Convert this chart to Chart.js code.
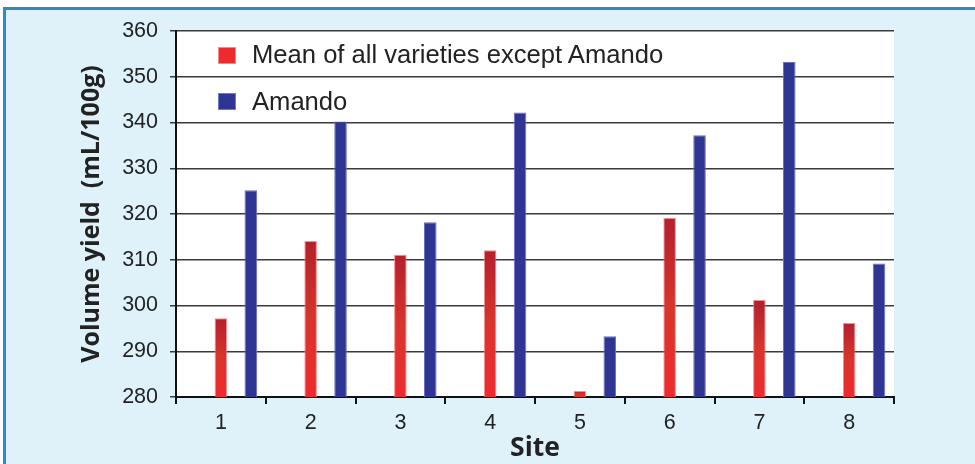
<!DOCTYPE html>
<html>
<head>
<meta charset="utf-8">
<script src="https://cdn.jsdelivr.net/npm/chart.js@4.4.1/dist/chart.umd.min.js"></script>
<style>
  html, body { margin: 0; padding: 0; background: #ffffff; }
  #wrap { position: relative; width: 975px; height: 464px; overflow: hidden; }
  #frame {
    position: absolute; left: 3px; top: 7px; right: 0; bottom: 0;
    background: #dff2fa;
    border-left: 3px solid #2f8bbf;
    border-top: 3px solid #2f8bbf;
  }
  #chart { position: absolute; left: 0; top: 0; }
  .leg { position: absolute; font-family: "Liberation Sans", Arial, sans-serif; font-size: 25.6px; line-height: 25px; color: #222; white-space: nowrap; }
  .sw { position: absolute; width: 18px; height: 17px; box-sizing: border-box; }
</style>
</head>
<body>
<div id="wrap">
  <div id="frame"></div>
  <canvas id="chart" width="975" height="464"></canvas>
  <div class="sw" style="left:218px; top:47px; background:#ee2a2e; border:1px solid #f68a8a;"></div>
  <div class="leg" style="left:252px; top:42px;">Mean of all varieties except Amando</div>
  <div class="sw" style="left:218px; top:93px; background:#2e3592; border:1px solid #7077c4;"></div>
  <div class="leg" style="left:252px; top:89px;">Amando</div>
</div>
<script>
document.addEventListener("DOMContentLoaded", function() {

    // Dati
    const sites = ['1', '2', '3', '4', '5', '6', '7', '8'];
    const meanOthers = [297.2, 314.1, 311.1, 312.1, 281.3, 319.1, 301.2, 296.2];
    const amando = [325.2, 340.2, 318.2, 342.2, 293.3, 337.2, 353.2, 309.2];
    const yTicks = [280, 290, 300, 310, 320, 330, 340, 350, 360];

    // Gradiente rosso per ogni barra (scuro in alto, chiaro in basso)
    function redGradient(context) {
        const chart = context.chart;
        const area = chart.chartArea;
        const v = context.raw;
        if (!area || v == null) return '#e02a2e';
        const yTop = chart.scales.y.getPixelForValue(v);
        const g = chart.ctx.createLinearGradient(0, yTop, 0, area.bottom);
        g.addColorStop(0, '#b3202e');
        g.addColorStop(0.5, '#d8352c');
        g.addColorStop(1, '#ef2a2f');
        return g;
    }

    // Sfondo bianco dell'area del grafico
    const whiteArea = {
        id: 'whiteArea',
        beforeDraw(chart) {
            const a = chart.chartArea;
            const ctx = chart.ctx;
            ctx.save();
            ctx.fillStyle = '#ffffff';
            ctx.fillRect(a.left, a.top, a.right - a.left, a.bottom - a.top);
            ctx.restore();
        }
    };

    const ctx = document.getElementById('chart').getContext('2d');
    new Chart(ctx, {
        type: 'bar',
        data: {
            labels: sites,
            datasets: [
                {
                    // slot vuoto: sposta la coppia come nell'originale
                    label: '',
                    data: sites.map(() => null),
                    backgroundColor: 'rgba(0,0,0,0)'
                },
                {
                    label: 'Mean of all varieties except Amando',
                    data: meanOthers,
                    backgroundColor: redGradient,
                    borderColor: 'rgba(245,130,130,0.9)',
                    borderWidth: 1,
                    borderSkipped: 'bottom'
                },
                {
                    label: 'Amando',
                    data: amando,
                    backgroundColor: '#2e3592',
                    borderColor: '#6a70bd',
                    borderWidth: 1,
                    borderSkipped: 'bottom'
                }
            ]
        },
        options: {
            responsive: false,
            animation: false,
            devicePixelRatio: 1,
            categoryPercentage: 1.0,
            barPercentage: 0.42,
            layout: { padding: { left: 0, top: 31, right: 81, bottom: 0 } },
            plugins: {
                legend: { display: false },
                tooltip: { enabled: false }
            },
            scales: {
                x: {
                    afterFit: s => { s.height = 67; },
                    grid: {
                        offset: true,
                        drawOnChartArea: false,
                        drawTicks: true,
                        tickLength: 7,
                        color: '#111',
                        lineWidth: 2
                    },
                    border: { color: '#111', width: 2 },
                    ticks: {
                        color: '#222',
                        padding: 6,
                        font: { family: '"Liberation Sans", Arial, sans-serif', size: 21.5 }
                    },
                    title: {
                        display: true,
                        text: 'Site',
                        color: '#222',
                        padding: { top: 0, bottom: 0 },
                        font: { family: '"Open Sans", sans-serif', size: 26.5, weight: 'bold' }
                    }
                },
                y: {
                    min: 280,
                    max: 360,
                    afterFit: s => { s.width = 176; },
                    afterBuildTicks: s => { s.ticks = yTicks.map(v => ({ value: v })); },
                    grid: {
                        color: '#3a3a3a',
                        lineWidth: 1.5,
                        drawTicks: true,
                        tickLength: 6
                    },
                    border: { color: '#111', width: 2 },
                    ticks: {
                        color: '#222',
                        padding: 12,
                        font: { family: '"Liberation Sans", Arial, sans-serif', size: 21.5 }
                    },
                    title: {
                        display: true,
                        text: 'Volume yield  (mL/100g)',
                        color: '#222',
                        padding: { top: 77, bottom: 0 },
                        font: { family: '"Open Sans", sans-serif', size: 25, weight: 'bold' }
                    }
                }
            }
        },
        plugins: [whiteArea]
    });
});
</script>
</body>
</html>
